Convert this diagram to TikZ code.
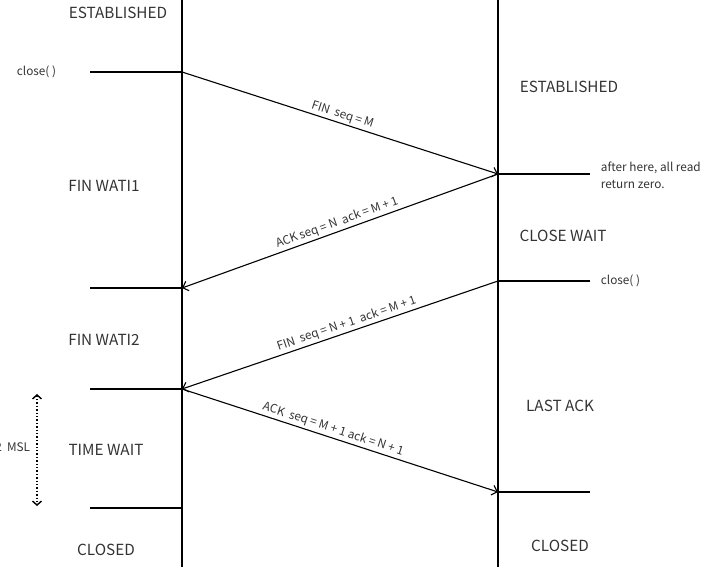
\documentclass[tikz,border=0pt]{standalone}
\usepackage{fontspec}
\setmainfont{Noto Sans CJK SC}
\usetikzlibrary{arrows.meta}

\begin{document}
\begin{tikzpicture}[x=1pt, y=-1pt, line width=1.1pt,
    state/.style={font=\fontsize{15.3}{17}\selectfont, text=black!80},
    note/.style={font=\fontsize{11.8}{17}\selectfont, text=black!80, align=left},
    msg/.style={-{Straight Barb[length=5pt,width=10pt]}},
    lbl/.style={font=\fontsize{11.8}{13}\selectfont, text=black!80, sloped, above, inner sep=2pt}]

\useasboundingbox (0,0) rectangle (704,567);

% two ends of the connection
\coordinate (C0) at (182,0);
\coordinate (C1) at (182,567);
\coordinate (S0) at (498,0);
\coordinate (S1) at (498,567);
\draw (C0) -- (C1);
\draw (S0) -- (S1);

% marks on the left
\coordinate (c1) at (182,72);   \coordinate (c1x) at (90,72);
\coordinate (c2) at (182,288);  \coordinate (c2x) at (90,288);
\coordinate (c3) at (182,389);  \coordinate (c3x) at (90,389);
\coordinate (c4) at (182,508);  \coordinate (c4x) at (90,508);
\foreach \i in {1,...,4}
    \draw (c\i) -- (c\i x);

% marks on the right
\coordinate (s1) at (498,174);  \coordinate (s1x) at (590,174);
\coordinate (s2) at (498,281);  \coordinate (s2x) at (590,281);
\coordinate (s3) at (498,492);  \coordinate (s3x) at (590,492);
\foreach \i in {1,...,3}
    \draw (s\i) -- (s\i x);

% segments
\draw[msg] (c1) -- node[lbl, pos=0.5] {FIN\ \ seq = M} (s1);
\draw[msg] (s1) -- node[lbl, pos=0.5] {ACK seq = N\ \ ack = M + 1} (c2);
\draw[msg] (s2) -- node[lbl, pos=0.47] {FIN\ \ seq = N + 1\ \ ack = M + 1} (c3);
\draw[msg] (c3) -- node[lbl, pos=0.47] {ACK\ \ seq = M + 1 ack = N + 1} (s3);

% states
\node[state] (cEst) at (118,13) {ESTABLISHED};
\node[state] (cFw1) at (104,186) {FIN WATI1};
\node[state] (cFw2) at (104,340) {FIN WATI2};
\node[state] (cTw) at (106,450) {TIME WAIT};
\node[state] (cCl) at (106,550) {CLOSED};
\node[state] (sEst) at (569,87) {ESTABLISHED};
\node[state] (sCw) at (563,236) {CLOSE WAIT};
\node[state] (sLa) at (560,406) {LAST ACK};
\node[state] (sCl) at (560,546) {CLOSED};

% notes
\node[note, anchor=east] (cClose) at (60,72) {close( )};
\node[note, anchor=west] (sClose) at (597,281) {close( )};
\node[note, anchor=west] (sRead) at (597,175) {after here, all read\\return zero.};

% 2 MSL
\coordinate (m0) at (37,394);
\coordinate (m1) at (37,506);
\draw[dotted, line width=1.4pt, {Straight Barb[length=4pt,width=9pt]}-{Straight Barb[length=4pt,width=9pt]}] (m0) -- (m1);
\node[note, anchor=east] (msl) at (34,447) {2\ \ MSL};

\end{tikzpicture}
\end{document}
